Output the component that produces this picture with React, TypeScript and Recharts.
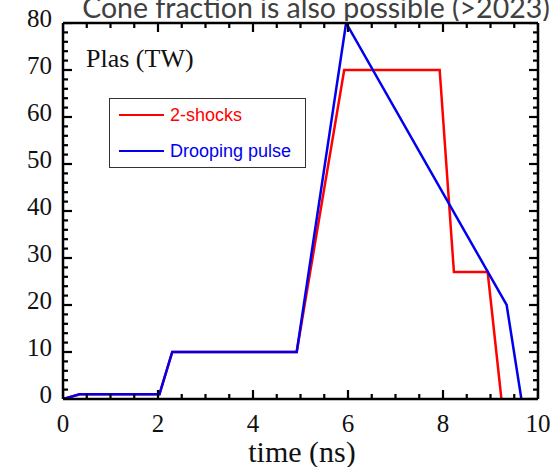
import { ComposedChart, Line, Scatter, XAxis, YAxis, Legend } from "recharts"

// 2-shocks pulse (red)
const SHOCK_TIME = [0, 0.35, 2.03, 2.3, 4.92, 5.92, 7.93, 8.23, 8.94, 9.23]
const SHOCK_POWER = [0, 1, 1, 10, 10, 70, 70, 27, 27, 0]

// drooping pulse (blue)
const DROOP_TIME = [0, 0.35, 2.03, 2.3, 4.92, 5.96, 9.34, 9.65]
const DROOP_POWER = [0, 1, 1, 10, 10, 80, 20, 0]

const X_MAJOR = [0, 2, 4, 6, 8, 10]
const Y_MAJOR = [0, 10, 20, 30, 40, 50, 60, 70, 80]
const X_MINOR_STEP = 0.5
const Y_MINOR_STEP = 2

const steps = (max: number, step: number) => {
  const out: number[] = []
  for (let v = 0; v <= max + 1e-9; v += step) out.push(Math.round(v * 100) / 100)
  return out
}
const X_TICKS = steps(10, X_MINOR_STEP)
const Y_TICKS = steps(80, Y_MINOR_STEP)

const shockData = SHOCK_TIME.map((t, i) => ({ t, p: SHOCK_POWER[i] }))
const droopData = DROOP_TIME.map((t, i) => ({ t, p: DROOP_POWER[i] }))

const SERIES = [
  { name: "2-shocks", color: "#ff0000", data: shockData },
  { name: "Drooping pulse", color: "#0000ee", data: droopData },
]

// inner tick marks on all four sides, placed through the chart scales
const tickMarks = [
  ...X_TICKS.map((t) => ({ t, p: 0, side: "b", major: X_MAJOR.includes(t) })),
  ...X_TICKS.map((t) => ({ t, p: 80, side: "t", major: X_MAJOR.includes(t) })),
  ...Y_TICKS.map((v) => ({ t: 0, p: v, side: "l", major: Y_MAJOR.includes(v) })),
  ...Y_TICKS.map((v) => ({ t: 10, p: v, side: "r", major: Y_MAJOR.includes(v) })),
]

const SERIF = "'Liberation Serif', 'DejaVu Serif', serif"
const MAJOR_LEN = 9
const MINOR_LEN = 5
const TICK_W = 2.2

const TickMark = (props: any) => {
  const { cx, cy, payload } = props
  if (cx == null || cy == null) return <g />
  const len = payload.major ? MAJOR_LEN : MINOR_LEN
  const h = TICK_W / 2
  if (payload.side === "b") return <rect x={cx - h} y={cy - len} width={TICK_W} height={len} fill="#000" />
  if (payload.side === "t") return <rect x={cx - h} y={cy} width={TICK_W} height={len} fill="#000" />
  if (payload.side === "l") return <rect x={cx} y={cy - h} width={len} height={TICK_W} fill="#000" />
  return <rect x={cx - len} y={cy - h} width={len} height={TICK_W} fill="#000" />
}

const BottomTick = (props: any) => {
  const { x, y, payload } = props
  if (!X_MAJOR.includes(payload.value)) return <g />
  return (
    <text x={x} y={y + 25} textAnchor="middle" fontFamily={SERIF} fontSize={25} fill="#111">
      {payload.value}
    </text>
  )
}

const LeftTick = (props: any) => {
  const { x, y, payload } = props
  if (!Y_MAJOR.includes(payload.value)) return <g />
  return (
    <text x={x - 3} y={y + 4} textAnchor="end" fontFamily={SERIF} fontSize={25} fill="#111">
      {payload.value}
    </text>
  )
}

const LegendBox = () => (
  <div
    style={{
      position: "relative",
      width: 197,
      height: 70,
      border: "1.5px solid #333",
      boxSizing: "border-box",
      background: "#fff",
      fontFamily: "'Liberation Sans', Arial, sans-serif",
      fontSize: 18,
    }}
  >
    {SERIES.map((s, i) => (
      <div key={s.name} style={{ position: "absolute", left: 0, top: i === 0 ? 16 : 52, width: "100%" }}>
        <div style={{ position: "absolute", left: 9, top: -1.25, width: 45, height: 2.5, background: s.color }} />
        <div style={{ position: "absolute", left: 60, top: -11, lineHeight: "22px", color: s.color, whiteSpace: "nowrap" }}>
          {s.name}
        </div>
      </div>
    ))}
  </div>
)

const axisLine = { stroke: "#000", strokeWidth: 2.5 }

const TextBox = ({ left, top, width, height, children }: any) => (
  <svg width={width} height={height} style={{ position: "absolute", left, top, pointerEvents: "none" }}>
    {children}
  </svg>
)

export default function App() {
  return (
    <div style={{ position: "absolute", left: 0, top: 0, width: 556, height: 467, background: "#fff" }}>
      <ComposedChart width={556} height={467} margin={{ top: 22, right: 17, bottom: 28, left: 23 }}>
        <XAxis
          xAxisId="bottom"
          type="number"
          dataKey="t"
          domain={[0, 10]}
          ticks={X_MAJOR}
          interval={0}
          tick={<BottomTick />}
          tickLine={false}
          axisLine={axisLine}
          height={40}
          allowDataOverflow
        />
        <XAxis
          xAxisId="top"
          orientation="top"
          type="number"
          domain={[0, 10]}
          ticks={X_MAJOR}
          tick={false}
          tickLine={false}
          axisLine={axisLine}
          height={1}
          allowDataOverflow
        />
        <YAxis
          yAxisId="left"
          type="number"
          dataKey="p"
          domain={[0, 80]}
          ticks={Y_MAJOR}
          interval={0}
          tick={<LeftTick />}
          tickLine={false}
          axisLine={axisLine}
          width={40}
          allowDataOverflow
        />
        <YAxis
          yAxisId="right"
          orientation="right"
          type="number"
          domain={[0, 80]}
          ticks={Y_MAJOR}
          tick={false}
          tickLine={false}
          axisLine={axisLine}
          width={1}
          allowDataOverflow
        />
        <Scatter
          xAxisId="bottom"
          yAxisId="left"
          data={tickMarks}
          dataKey="p"
          shape={<TickMark />}
          legendType="none"
          isAnimationActive={false}
        />
        {SERIES.map((s) => (
          <Line
            key={s.name}
            xAxisId="bottom"
            yAxisId="left"
            data={s.data}
            dataKey="p"
            name={s.name}
            type="linear"
            stroke={s.color}
            strokeWidth={2.5}
            dot={false}
            activeDot={false}
            isAnimationActive={false}
          />
        ))}
        <Legend
          layout="horizontal"
          verticalAlign="middle"
          align="center"
          content={<LegendBox />}
          wrapperStyle={{ left: 109, top: 98, width: 197, height: 70 }}
        />
      </ComposedChart>
      <TextBox left={0} top={0} width={556} height={21}>
        <text x={316} y={18} textAnchor="middle" fontFamily="Lato, 'Open Sans', sans-serif" fontSize={28.5} fill="#404040">
          Cone fraction is also possible (&gt;2023)
        </text>
      </TextBox>
      <TextBox left={80} top={40} width={130} height={36}>
        <text x={6} y={27} fontFamily={SERIF} fontSize={26} fill="#111">
          Plas (TW)
        </text>
      </TextBox>
      <TextBox left={222} top={436} width={160} height={31}>
        <text x={80} y={26} textAnchor="middle" fontFamily={SERIF} fontSize={30} fill="#111">
          time (ns)
        </text>
      </TextBox>
    </div>
  )
}
